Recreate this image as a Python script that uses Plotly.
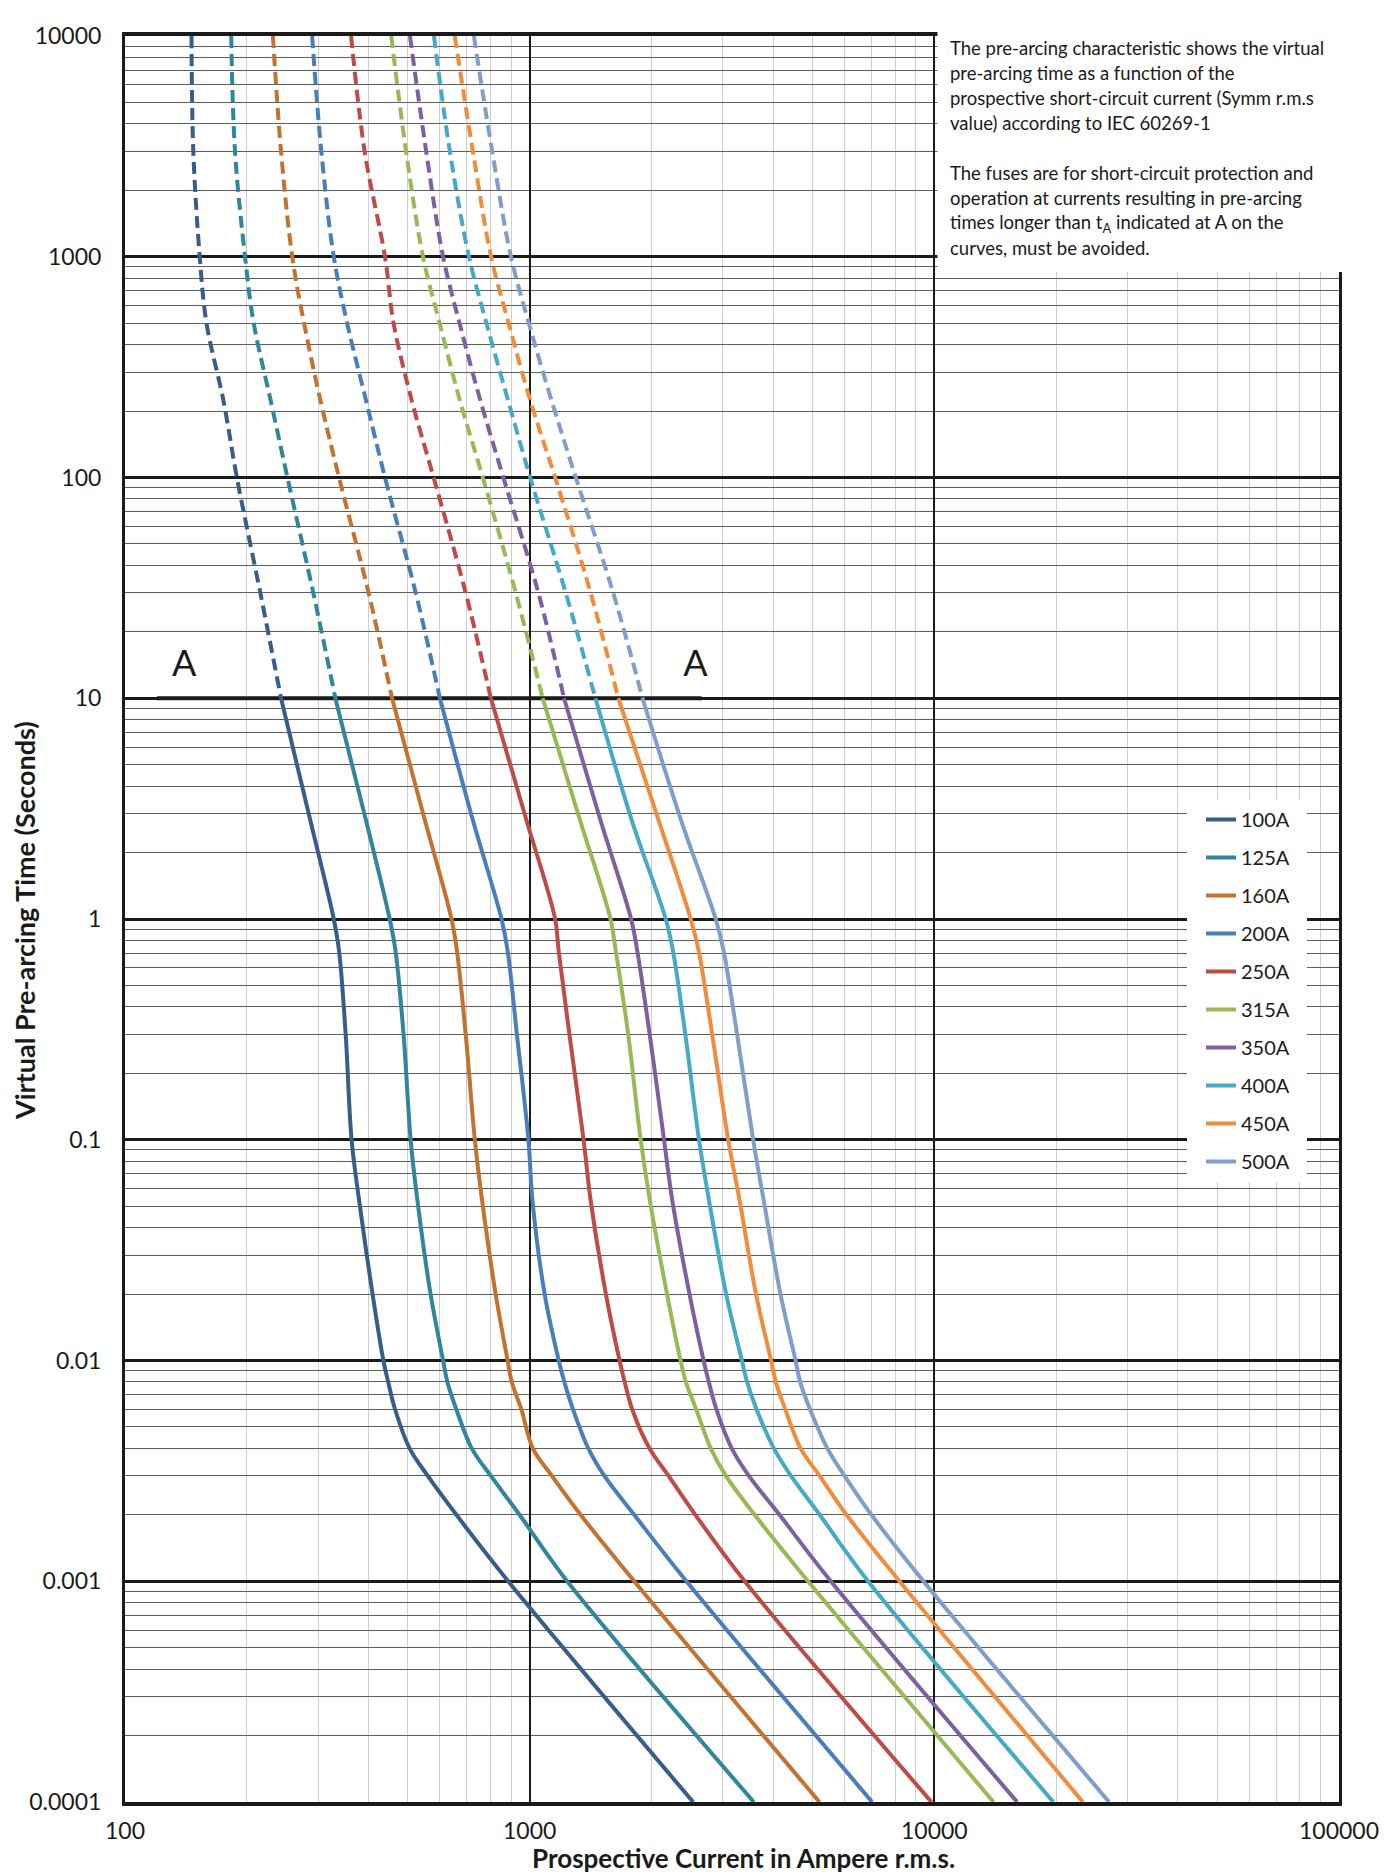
import plotly.graph_objects as go

# pre-arcing time levels (s) at which the curves were read
times = [10000, 3000, 1000, 500, 224, 100, 30, 10, 2.8, 1, 0.72, 0.3, 0.1,
         0.053, 0.02, 0.01, 0.008, 0.006, 0.004, 0.003, 0.002, 0.001, 0.0001]

# prospective current (A) for each fuse rating at the time levels above
i_100 = [146, 147.5, 153, 159, 175, 189, 216, 243, 287, 328, 338, 351, 363, 379, 409, 435, 447, 465, 505, 560, 659, 885, 2535]
i_125 = [183, 187, 198, 208, 229, 252, 292, 331, 394, 451, 466, 488, 508, 528, 569, 611, 626, 659, 719, 802, 944, 1238, 3580]
i_160 = [232, 243, 259, 277, 304, 338, 400, 457, 551, 641, 661, 695, 732, 763, 824, 882, 903, 954, 1018, 1135, 1336, 1813, 5200]
i_200 = [290, 305.6, 328, 354, 394, 439, 523, 600, 724, 852, 882, 930, 993, 1016, 1089, 1180, 1218, 1280, 1396, 1530, 1813, 2440, 7020]
i_250 = [362, 391, 439, 461, 511, 579, 695, 802, 982, 1156, 1179, 1254, 1359, 1415, 1543, 1668, 1717, 1793, 1977, 2204, 2567, 3400, 9840]
i_315 = [455, 495, 545, 599, 672, 766, 924, 1077, 1332, 1584, 1632, 1752, 1881, 1982, 2185, 2360, 2432, 2580, 2802, 3054, 3597, 4875, 14000]
i_350 = [506, 555, 611, 671, 755, 861, 1051, 1216, 1496, 1781, 1844, 1980, 2148, 2252, 2483, 2690, 2771, 2894, 3157, 3482, 4143, 5550, 16020]
i_400 = [580, 635, 708, 782, 884, 1003, 1228, 1454, 1788, 2169, 2259, 2425, 2621, 2775, 3059, 3345, 3445, 3638, 4012, 4425, 5208, 6860, 19680]
i_450 = [653, 724, 803, 887, 1003, 1156, 1415, 1656, 2083, 2500, 2615, 2825, 3095, 3303, 3625, 3950, 4056, 4283, 4672, 5208, 6067, 8200, 23280]
i_500 = [728, 808, 899, 995, 1132, 1300, 1609, 1901, 2367, 2882, 3014, 3256, 3567, 3788, 4166, 4540, 4660, 4932, 5440, 6000, 6989, 9400, 27030]

ratings = ["100A", "125A", "160A", "200A", "250A", "315A", "350A", "400A", "450A", "500A"]
currents = [i_100, i_125, i_160, i_200, i_250, i_315, i_350, i_400, i_450, i_500]
colors = ["#385D8A", "#31859C", "#C4722F", "#4A7EBB", "#BE4B48",
          "#98B954", "#7D60A0", "#46AAC5", "#F08C3C", "#809EC9"]

t_a = 10  # limit line "A"
a_line_x = [120, 2660]
a_label_x = [140, 2570]
a_label_y = [13.8, 13.8]

y_ticks = [0.0001, 0.001, 0.01, 0.1, 1, 10, 100, 1000, 10000]
y_ticktext = ["0.0001", "0.001", "0.01", "0.1", "1", "10", "100", "1000", "10000"]
x_ticks = [100, 1000, 10000, 100000]
x_ticktext = ["100", "1000", "10000", "100000"]

note_lines = [
    "The pre-arcing characteristic shows the virtual",
    "pre-arcing time as a function of the",
    "prospective short-circuit current (Symm r.m.s",
    "value) according to IEC 60269-1",
    "",
    "The fuses are for short-circuit protection and",
    "operation at currents resulting in pre-arcing",
    "times longer than t<sub>A</sub> indicated at A on the",
    "curves, must be avoided.",
]

# minor grid positions: 2..9 within every decade
x_minor = [m * 10 ** e for e in range(2, 5) for m in range(2, 10)]
y_minor = [m * 10.0 ** e for e in range(-4, 4) for m in range(2, 10)]

FONT = "Lato"
OFF = 8  # page body margin
W, H = 1392 - OFF, 1875 - OFF
ML, MR, MT, MB = 125 - OFF, 53, 36 - OFF, 73
PW, PH = W - ML - MR, H - MT - MB


def px(x):
    return (x - OFF - ML) / PW


def py(y):
    return 1 - (y - OFF - MT) / PH


fig = go.Figure()

# horizontal line marking t_A
fig.add_trace(go.Scatter(
    x=a_line_x, y=[t_a, t_a], mode="lines",
    line=dict(color="#1a1a1a", width=4),
    showlegend=False, hoverinfo="skip",
))
fig.add_trace(go.Scatter(
    x=a_label_x, y=a_label_y, mode="text", text=["A", "A"],
    textfont=dict(family=FONT, size=36, color="#1a1a1a"),
    showlegend=False, hoverinfo="skip",
))

for name, cur, col in zip(ratings, currents, colors):
    upper = [(i, t) for i, t in zip(cur, times) if t >= t_a]
    lower = [(i, t) for i, t in zip(cur, times) if t <= t_a]
    fig.add_trace(go.Scatter(
        x=[p[0] for p in upper], y=[p[1] for p in upper],
        mode="lines", line=dict(color=col, width=4, dash="12px,6px", shape="spline", smoothing=1.0),
        legendgroup=name, showlegend=False, name=name,
    ))
    fig.add_trace(go.Scatter(
        x=[p[0] for p in lower], y=[p[1] for p in lower],
        mode="lines", line=dict(color=col, width=4, shape="spline", smoothing=1.0),
        legendgroup=name, name=name,
    ))

# white panel behind the explanatory note
fig.add_shape(type="rect", xref="paper", yref="paper",
              x0=px(937.5), x1=1.2, y0=py(272), y1=1.1,
              fillcolor="white", line=dict(width=0), layer="above")
# white panel behind the legend
fig.add_shape(type="rect", xref="paper", yref="paper",
              x0=px(1187), x1=px(1307), y0=py(1182), y1=py(800),
              fillcolor="white", line=dict(width=0), layer="above")

for k, line in enumerate(note_lines):
    if not line:
        continue
    fig.add_annotation(
        text=line, xref="paper", yref="paper",
        x=px(948), y=py(48 + 25 * k),
        xanchor="left", yanchor="middle", showarrow=False,
        font=dict(family=FONT, size=18.5, color="#1a1a1a"),
    )

fig.add_annotation(
    text="Prospective Current in Ampere r.m.s.", xref="paper", yref="paper",
    x=px(743), y=py(1858), xanchor="center", yanchor="middle",
    showarrow=False, font=dict(family=FONT, size=26, color="#1a1a1a", weight="bold"),
)
fig.add_annotation(
    text="Virtual Pre-arcing Time (Seconds)", xref="paper", yref="paper",
    x=px(24), y=py(921), xanchor="center", yanchor="middle",
    textangle=-90, showarrow=False,
    font=dict(family=FONT, size=27, color="#1a1a1a", weight="bold"),
)

fig.update_xaxes(
    type="log", range=[2, 5], tickvals=x_ticks, ticktext=x_ticktext,
    showgrid=True, gridcolor="#1a1a1a", gridwidth=2,
    minor=dict(tickvals=x_minor, showgrid=True, gridcolor="#cfcfcf", gridwidth=1, ticks=""),
    showline=True, linecolor="#1a1a1a", linewidth=4, mirror=True,
    ticks="", ticklabelstandoff=5, zeroline=False,
    tickfont=dict(family=FONT, size=23, color="#1a1a1a"),
)
fig.update_yaxes(
    type="log", range=[-4, 4], tickvals=y_ticks, ticktext=y_ticktext,
    showgrid=True, gridcolor="#1a1a1a", gridwidth=2.5,
    minor=dict(tickvals=y_minor, showgrid=True, gridcolor="#5e5e5e", gridwidth=1, ticks=""),
    showline=True, linecolor="#1a1a1a", linewidth=3, mirror=True,
    ticks="", ticklabelstandoff=16, zeroline=False,
    tickfont=dict(family=FONT, size=23, color="#1a1a1a"),
)

fig.update_layout(
    width=W, height=H,
    margin=dict(l=ML, r=MR, t=MT, b=MB),
    paper_bgcolor="white", plot_bgcolor="white",
    font=dict(family=FONT, color="#1a1a1a"),
    legend=dict(
        x=px(1201), y=py(800), xanchor="left", yanchor="top",
        bgcolor="white", borderwidth=0, traceorder="grouped", tracegroupgap=9,
        font=dict(family=FONT, size=20, color="#1a1a1a"),
    ),
)

fig.write_html("out.html")
